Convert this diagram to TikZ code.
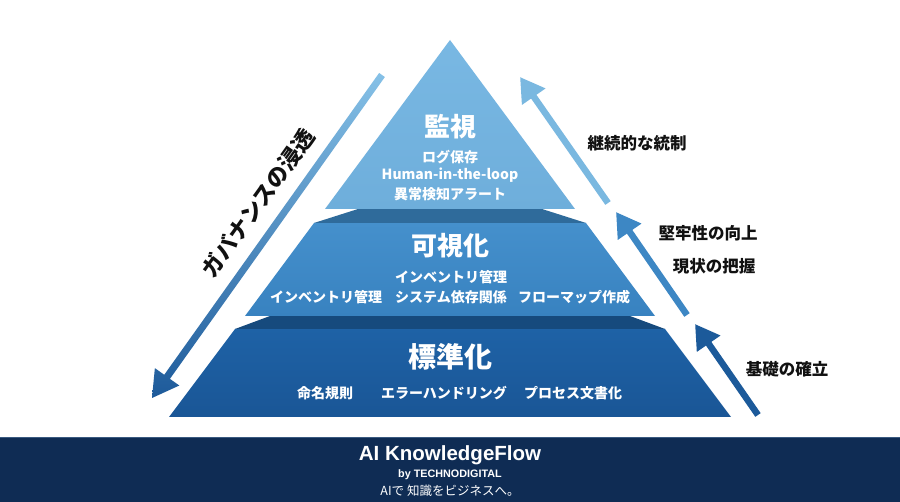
\documentclass[tikz,border=0pt]{standalone}
\usepackage{fontspec}
\setmainfont{Noto Sans CJK JP}
\newfontfamily\latinsans{Liberation Sans}
\usetikzlibrary{calc,arrows.meta}
\definecolor{tierA}{HTML}{79B8E3}
\definecolor{tierAb}{HTML}{6EAEDB}
\definecolor{tierB}{HTML}{4590CC}
\definecolor{tierBb}{HTML}{3882C0}
\definecolor{tierC}{HTML}{1E62A6}
\definecolor{tierCb}{HTML}{1A5696}
\definecolor{shelfA}{HTML}{2F6B9B}
\definecolor{shelfB}{HTML}{164A7D}
\definecolor{footbg}{HTML}{0F2C54}
\definecolor{footline}{HTML}{3A5A80}
\definecolor{arrA}{HTML}{7AB8E0}
\definecolor{arrB}{HTML}{3D87C4}
\definecolor{arrC}{HTML}{1C5A9A}
\definecolor{govtop}{HTML}{86C1E7}
\definecolor{govbot}{HTML}{1D5A9A}
\definecolor{labelink}{HTML}{111111}
\tikzset{
  tiertitle/.style={text=white, font=\bfseries\fontsize{26}{28}\selectfont, inner sep=0pt},
  tieritem/.style={text=white, font=\bfseries\fontsize{14}{16}\selectfont, inner sep=0pt},
  sidelabel/.style={text=labelink, font=\bfseries\fontsize{16.5}{18}\selectfont, inner sep=0pt},
  govlabel/.style={text=labelink, font=\bfseries\fontsize{22}{24}\selectfont, inner sep=0pt},
  uparrow/.style={line width=6.5pt, -{Triangle[length=24pt,width=27pt]}},
}
\begin{document}
\begin{tikzpicture}[x=1pt,y=-1pt]
\useasboundingbox (0,0) rectangle (900,502);
\fill[white] (0,0) rectangle (900,502);

% pyramid tiers
\shade[top color=tierC, bottom color=tierCb] (235,329) -- (665,329) -- (731,417) -- (169,417) -- cycle;
\fill[shelfB] (270,316) -- (630,316) -- (665,329) -- (235,329) -- cycle;
\shade[top color=tierB, bottom color=tierBb] (314,223) -- (586,223) -- (655,316) -- (245,316) -- cycle;
\fill[shelfA] (358,209) -- (542,209) -- (586,223) -- (314,223) -- cycle;
\shade[top color=tierA, bottom color=tierAb] (450,40) -- (575,209) -- (325,209) -- cycle;

% governance arrow (shaded)
\coordinate (gT) at (382,75);
\coordinate (gP) at (152,398);
\coordinate (gB) at ($(gP)!26pt!(gT)$);
\shade[top color=govtop, bottom color=govbot]
  ($(gT)!3.5pt!90:(gP)$) -- ($(gB)!3.5pt!90:(gP)$) -- ($(gB)!15pt!90:(gP)$) -- (gP)
  -- ($(gB)!15pt!-90:(gP)$) -- ($(gB)!3.5pt!-90:(gP)$) -- ($(gT)!3.5pt!-90:(gP)$) -- cycle;
\node[govlabel, rotate=54.5] (gov) at (258,203) {ガバナンスの浸透};

% right arrows
\coordinate (r1s) at (608,203);
\coordinate (r1e) at (520,77);
\coordinate (r2s) at (687,315);
\coordinate (r2e) at (616,212);
\coordinate (r3s) at (758,415);
\coordinate (r3e) at (695,324);
\draw[uparrow, arrA] (r1s) -- (r1e);
\draw[uparrow, arrB] (r2s) -- (r2e);
\draw[uparrow, arrC] (r3s) -- (r3e);

\node[sidelabel] (l1) at (637,143) {継続的な統制};
\node[sidelabel] (l2) at (708,233) {堅牢性の向上};
\node[sidelabel] (l3) at (714,266) {現状の把握};
\node[sidelabel] (l4) at (787,369) {基礎の確立};

% tier texts
\node[tiertitle] (t1) at (450,127) {監視};
\node[tieritem] (t1a) at (450,157) {ログ保存};
\node[tieritem] (t1b) at (450,175) {Human-in-the-loop};
\node[tieritem] (t1c) at (450,194) {異常検知アラート};

\node[tiertitle] (t2) at (450,246) {可視化};
\node[tieritem] (t2a) at (451,277) {インベントリ管理};
\node[tieritem] (t2b) at (326,297) {インベントリ管理};
\node[tieritem] (t2c) at (451,297) {システム依存関係};
\node[tieritem] (t2d) at (574,297) {フローマップ作成};

\node[tiertitle, font=\bfseries\fontsize{28}{30}\selectfont] (t3) at (450,357) {標準化};
\node[tieritem] (t3a) at (325,393) {命名規則};
\node[tieritem] (t3b) at (444,393) {エラーハンドリング};
\node[tieritem] (t3c) at (573,393) {プロセス文書化};

% footer
\fill[footbg] (0,437) rectangle (900,502);
\draw[footline, line width=1pt] (0,437.5) -- (900,437.5);
\node[text=white, font=\latinsans\bfseries\fontsize{20.5}{23}\selectfont, inner sep=0pt] (brand) at (450,455) {AI KnowledgeFlow};
\node[text=white, font=\latinsans\bfseries\fontsize{10.8}{12}\selectfont, inner sep=0pt] (by) at (450,475) {by TECHNODIGITAL};
\node[text=white, font=\fontsize{12.5}{14}\selectfont, inner sep=0pt] (tag) at (450,491) {AIで 知識をビジネスへ。};
\end{tikzpicture}
\end{document}
